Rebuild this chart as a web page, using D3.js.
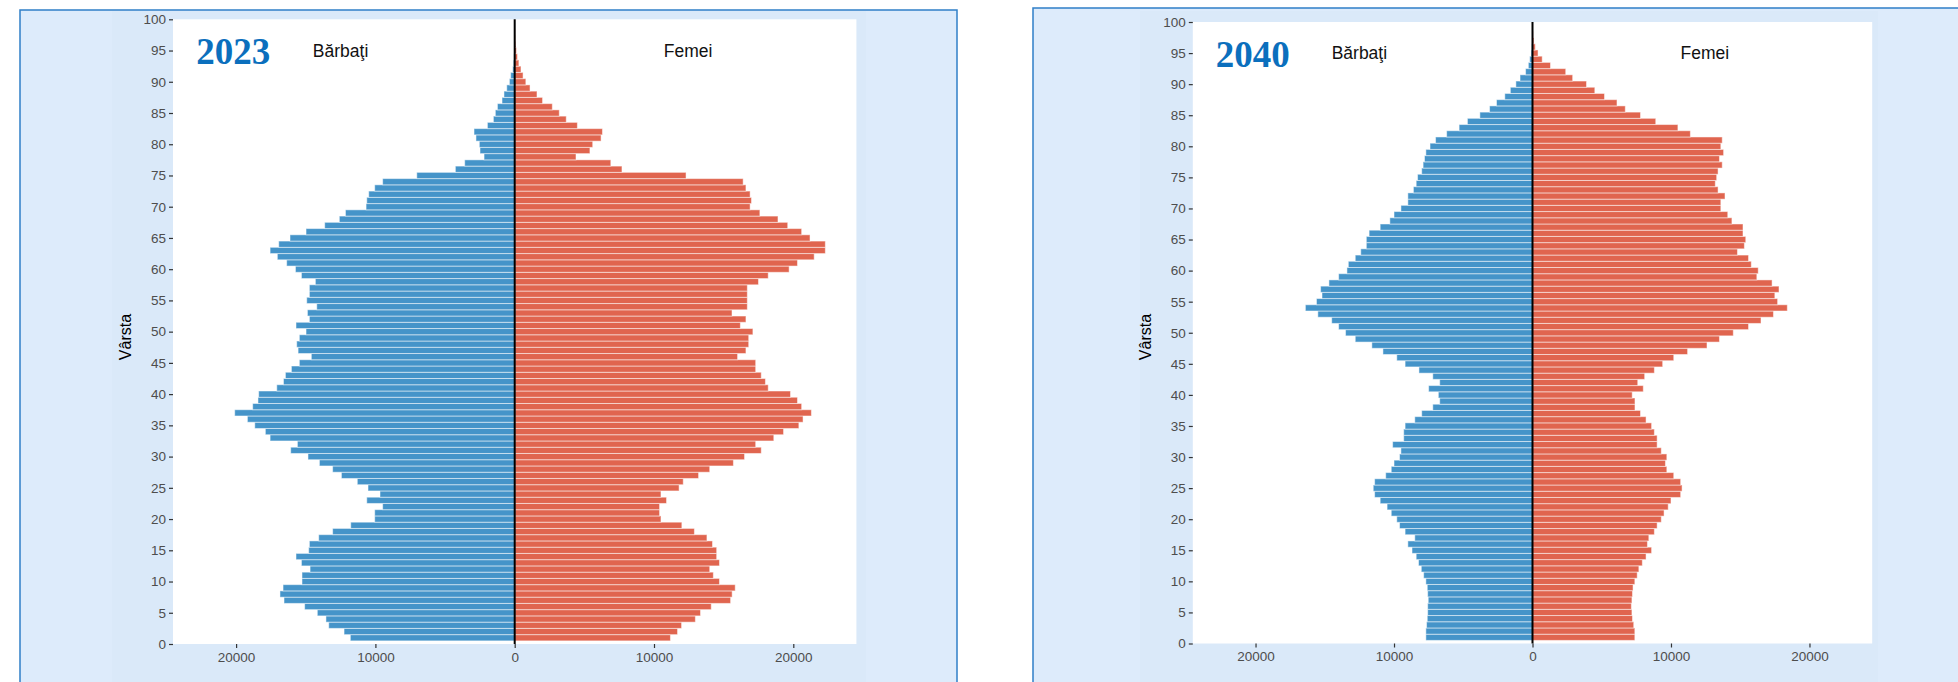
<!DOCTYPE html>
<html><head><meta charset="utf-8">
<script src="https://cdn.jsdelivr.net/npm/d3@7"></script>
<style>body{margin:0;background:#fff;} svg{display:block}</style>
</head><body><svg id="c" width="1958" height="682"></svg>
<script>
// bar positions on the age axis (1..99)
const ages = [1,2,3,4,5,6,7,8,9,10,11,12,13,14,15,16,17,18,19,20,21,22,23,24,25,26,27,28,29,30,31,32,33,34,35,36,37,38,39,40,41,42,43,44,45,46,47,48,49,50,51,52,53,54,55,56,57,58,59,60,61,62,63,64,65,66,67,68,69,70,71,72,73,74,75,76,77,78,79,80,81,82,83,84,85,86,87,88,89,90,91,92,93,94,95,96,97,98,99];

const men2023 = [11800,12250,13350,13550,14170,15080,16560,16850,16630,15270,15270,14690,15310,15700,14790,14740,14070,13070,11770,10050,10050,9480,10620,9670,10530,11300,12440,13070,14020,14840,16080,15600,17560,17900,18660,19190,20100,18810,18430,18380,17080,16600,16460,16030,15460,14600,15550,15650,15460,14980,15700,14740,14880,14210,14930,14740,14740,14310,15310,15740,16370,17040,17560,16940,16130,14980,13640,12590,12150,10670,10620,10480,10050,9480,7030,4260,3590,2200,2490,2540,2780,2920,1960,1530,1390,1240,910,770,570,380,290,140,100,60,40,25,15,10,5];

const women2023 = [11180,11690,11980,12970,13340,14110,15500,15610,15830,14700,14260,14000,14700,14500,14500,14200,13800,12900,12000,10500,10400,10400,10900,10500,11800,12100,13200,14000,15700,16500,17700,17300,18600,19300,20400,20700,21300,20600,20300,19800,18200,18000,17700,17300,17300,16000,16600,16800,16800,17100,16200,16600,15600,16700,16700,16700,16700,17500,18200,19700,20300,21500,22300,22300,21200,20600,19600,18900,17600,16900,17000,16900,16600,16400,12300,7700,6900,4400,5400,5600,6200,6300,4500,3700,3200,2700,2000,1600,1100,800,600,450,300,200,130,80,50,30,15];

const men2040 = [7700,7700,7650,7600,7570,7570,7530,7570,7600,7700,7860,8030,8230,8400,8700,9000,8500,9200,9600,9800,10200,10500,11000,11400,11500,11400,10600,10200,10000,9600,9500,10100,9300,9300,9200,8500,8000,7200,6700,6800,7500,6700,7200,8200,9200,9800,10800,11600,12800,13500,14000,14500,15500,16400,15600,15200,15300,14700,14000,13400,13300,12800,12400,12000,12000,11800,11000,10300,10000,9500,9000,9000,8600,8400,8300,8000,7900,7800,7700,7400,7000,6200,5300,4700,3800,3100,2600,2000,1600,1200,900,500,300,200,100,60,30,20,10];

const women2040 = [7390,7390,7310,7220,7180,7140,7180,7220,7260,7390,7560,7680,7930,8200,8600,8300,8400,8800,9000,9300,9500,9800,10000,10700,10800,10700,10200,9700,9600,9700,9300,9000,9000,8800,8600,8200,7800,7400,7400,7200,8000,7600,8100,8800,9400,10200,11200,12600,13500,14500,15600,16500,17400,18400,17700,17500,17800,17300,16200,16300,15800,15600,14800,15300,15400,15200,15200,14400,14100,13600,13600,13900,13400,13200,13300,13400,13700,13500,13800,13600,13700,11400,10500,8900,7800,6700,6100,5200,4500,3900,2900,2400,1300,700,400,200,100,50,20];

const yearLabels = ["2023", "2040"];
const sexLabels = ["Bărbaţi", "Femei"];
const yTitle = "Vârsta";
const yTicks = [0,5,10,15,20,25,30,35,40,45,50,55,60,65,70,75,80,85,90,95,100];
const xTicks = [-20000,-10000,0,10000,20000];
const xLimit = [-24530, 24530];

const svg = d3.select("#c");
const BLUE = "#4594c9", RED = "#e0654f";
const FONT = "'Liberation Sans', Arial, sans-serif";

// outer boxes
svg.append("rect").attr("x",20).attr("y",10).attr("width",937).attr("height",700)
  .attr("fill","#ddebfb").attr("stroke","#2f7fc8").attr("stroke-width",1.5);
svg.append("rect").attr("x",1033).attr("y",8).attr("width",960).attr("height",700)
  .attr("fill","#ddebfb").attr("stroke","#2f7fc8").attr("stroke-width",1.5);

const panels = [
  {men: men2023, women: women2023, year: yearLabels[0],
   x0: 173, x1: 856.4, y0: 644, y1: 19.3, bg: [112, 866], titleX: 131, yearBase: 64},
  {men: men2040, women: women2040, year: yearLabels[1],
   x0: 1192.8, x1: 1872.2, y0: 643.5, y1: 22, bg: [1140, 1878], titleX: 1151, yearBase: 67}
];

panels.forEach(p => {
  const g = svg.append("g");
  g.append("rect").attr("x", p.bg[0]).attr("y", 11).attr("width", p.bg[1]-p.bg[0]).attr("height", 680)
    .attr("fill", "#dae9f9");
  const xs = d3.scaleLinear().domain(xLimit).range([p.x0, p.x1]);
  const ys = d3.scaleLinear().domain([0, 100]).range([p.y0, p.y1]);
  g.append("rect").attr("x", p.x0).attr("y", p.y1).attr("width", p.x1-p.x0).attr("height", p.y0-p.y1)
    .attr("fill", "#fff");

  const clipId = "clip" + p.year;
  svg.append("clipPath").attr("id", clipId).append("rect")
    .attr("x", p.x0).attr("y", p.y1).attr("width", p.x1-p.x0).attr("height", p.y0-p.y1);
  const bars = g.append("g").attr("clip-path", `url(#${clipId})`);

  bars.selectAll(".m").data(ages).join("rect")
    .attr("x", (a,i) => xs(-p.men[i]))
    .attr("width", (a,i) => xs(0) - xs(-p.men[i]))
    .attr("y", a => ys(a + 0.5))
    .attr("height", a => ys(a - 0.5) - ys(a + 0.5))
    .attr("fill", BLUE).attr("stroke", "#fff").attr("stroke-opacity", 0.5).attr("stroke-width", 1);
  bars.selectAll(".f").data(ages).join("rect")
    .attr("x", xs(0))
    .attr("width", (a,i) => xs(p.women[i]) - xs(0))
    .attr("y", a => ys(a + 0.5))
    .attr("height", a => ys(a - 0.5) - ys(a + 0.5))
    .attr("fill", RED).attr("stroke", "#fff").attr("stroke-opacity", 0.5).attr("stroke-width", 1);

  g.append("line").attr("x1", xs(0)).attr("x2", xs(0)).attr("y1", ys(100)).attr("y2", ys(0))
    .attr("stroke", "#000").attr("stroke-width", 2);

  const ya = g.append("g").attr("transform", `translate(${p.x0},0)`)
    .call(d3.axisLeft(ys).tickValues(yTicks).tickSize(4).tickPadding(3));
  const xa = g.append("g").attr("transform", `translate(0,${p.y0})`)
    .call(d3.axisBottom(xs).tickValues(xTicks).tickSize(4).tickPadding(4).tickFormat(d => Math.abs(d)));
  [ya, xa].forEach(a => {
    a.select(".domain").remove();
    a.selectAll("line").attr("stroke", "#333").attr("stroke-width", 1.2);
    a.selectAll("text").attr("fill", "#4d4d4d").style("font-family", FONT).style("font-size", "13.5px");
  });

  g.append("text").attr("transform", `translate(${p.titleX},337) rotate(-90)`)
    .attr("text-anchor", "middle").style("font-family", FONT).style("font-size", "16px")
    .attr("fill", "#000").text(yTitle);

  g.append("text").attr("x", xs(-20200)).attr("y", p.yearBase).attr("text-anchor", "middle")
    .style("font-family", "'Liberation Serif', 'DejaVu Serif', serif").style("font-weight", "bold")
    .style("font-size", "37px").attr("fill", "#0b6fbd").text(p.year);
  g.append("text").attr("x", xs(-12500)).attr("y", ys(95) + 6).attr("text-anchor", "middle")
    .style("font-family", FONT).style("font-size", "17.5px").attr("fill", "#111").text(sexLabels[0]);
  g.append("text").attr("x", xs(12450)).attr("y", ys(95) + 6).attr("text-anchor", "middle")
    .style("font-family", FONT).style("font-size", "17.5px").attr("fill", "#111").text(sexLabels[1]);
});
</script></body></html>
